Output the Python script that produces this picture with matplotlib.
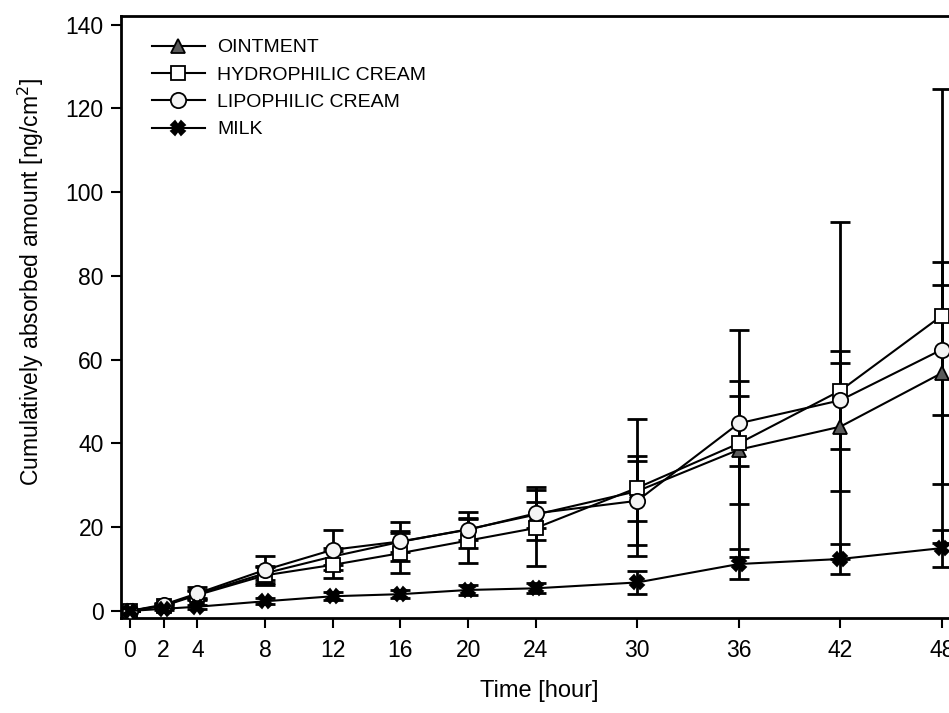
import numpy as np
import matplotlib.pyplot as plt

plt.rcParams['font.family'] = ['Liberation Sans', 'DejaVu Sans']

# sampling times [hour]
time_h = [0, 2, 4, 8, 12, 16, 20, 24, 30, 36, 42, 48]

# cumulatively absorbed amount [ng/cm2] and SD
ointment = [0, 1.3, 4.0, 9.0, 13.0, 16.5, 19.5, 23.0, 28.6, 38.5, 44.0, 56.8]
ointment_sd = [0, 0.3, 1.0, 1.5, 2.0, 2.5, 2.5, 3.1, 7.2, 12.9, 15.3, 26.5]

hydro = [0, 1.2, 3.8, 8.5, 11.0, 13.8, 16.8, 19.8, 29.4, 40.0, 52.6, 70.5]
hydro_sd = [0, 0.4, 1.0, 2.2, 3.2, 4.8, 5.4, 9.0, 16.4, 27.2, 40.3, 54.2]

lipo = [0, 1.5, 4.2, 9.8, 14.6, 16.6, 19.4, 23.3, 26.3, 44.8, 50.3, 62.4]
lipo_sd = [0, 0.4, 1.5, 3.2, 4.8, 4.7, 4.3, 6.4, 10.6, 10.2, 11.7, 15.5]

milk = [0, 0.5, 1.0, 2.3, 3.5, 4.0, 5.0, 5.4, 6.8, 11.2, 12.4, 15.0]
milk_sd = [0, 0.3, 0.5, 0.7, 1.0, 1.0, 1.2, 1.2, 2.7, 3.6, 3.6, 4.4]

x_ticks = [0, 2, 4, 8, 12, 16, 20, 24, 30, 36, 42, 48]
y_ticks = [0, 20, 40, 60, 80, 100, 120, 140]

fig = plt.figure(figsize=(9.49, 7.13), dpi=100)
ax = fig.add_axes([0.127, 0.1332, 0.901, 0.8444])

series = [
    ('OINTMENT', ointment, ointment_sd, '^', '#5a5a5a', 9.5),
    ('HYDROPHILIC CREAM', hydro, hydro_sd, 's', 'white', 9.5),
    ('LIPOPHILIC CREAM', lipo, lipo_sd, 'o', '#f4f4f4', 11),
    ('MILK', milk, milk_sd, 'X', 'black', 10),
]

# error bars first, then lines + markers on top
for name, vals, sd, mk, fc, ms in series:
    ax.errorbar(time_h, vals, yerr=sd, fmt='none', ecolor='black',
                elinewidth=2, capsize=7.5, capthick=2, zorder=2)

for name, vals, sd, mk, fc, ms in series:
    ax.plot(time_h, vals, color='black', lw=1.5, marker=mk, ms=ms,
            mfc=fc, mec='black', mew=1.3, label=name, zorder=3)

ax.set_xlim(-0.55, 50)
ax.set_ylim(-1.7, 142.1)
ax.set_xticks(x_ticks)
ax.set_yticks(y_ticks)
ax.tick_params(direction='out', length=7, width=1.5, labelsize=16.5)
ax.tick_params(axis='x', pad=8)
ax.tick_params(axis='y', pad=5)

for side in ['left', 'bottom', 'top', 'right']:
    ax.spines[side].set_linewidth(2)

ax.set_xlabel('Time [hour]', fontsize=17)
ax.xaxis.set_label_coords(0.49, -0.103)
ax.set_ylabel('Cumulatively absorbed amount [ng/cm$^2$]', fontsize=16.5)
ax.yaxis.set_label_coords(-0.087, 0.558)

ax.legend(loc='upper left', bbox_to_anchor=(0.028, 0.975), frameon=False,
          fontsize=14, handlelength=2.7, handletextpad=0.65, labelspacing=0.5,
          borderaxespad=0)

fig.savefig('out.png', dpi=100)
